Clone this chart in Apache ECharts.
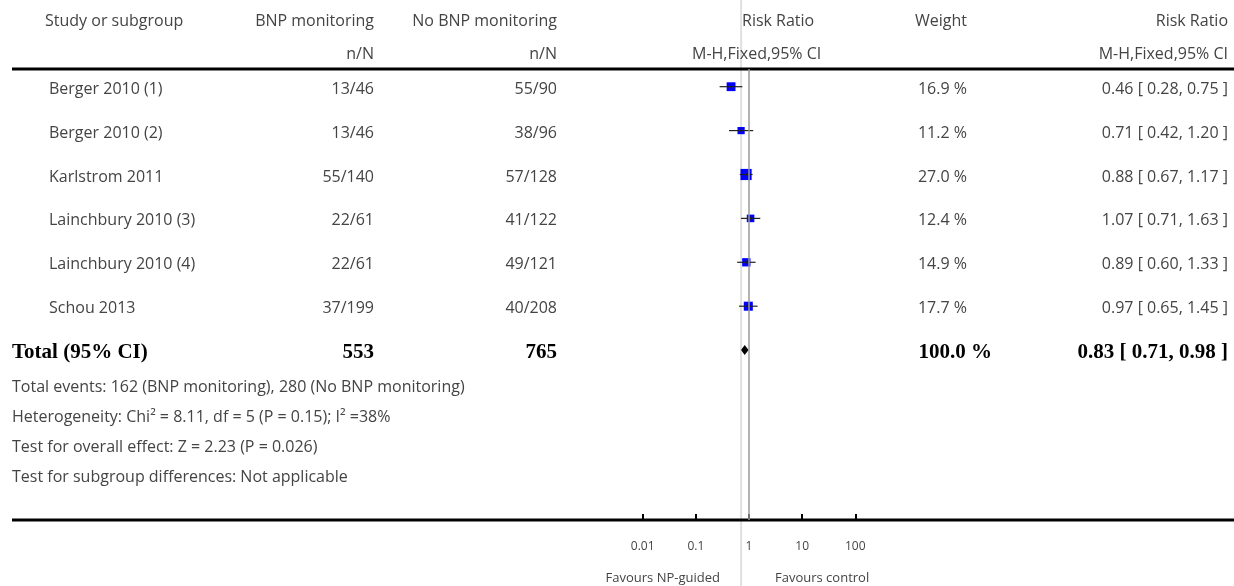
<!DOCTYPE html>
<html>
<head>
<meta charset="utf-8">
<script src="https://cdn.jsdelivr.net/npm/echarts@6/dist/echarts.min.js"></script>
<style>
  html, body { margin: 0; padding: 0; background: #fff; }
  #chart { width: 1234px; height: 586px; }
</style>
</head>
<body>
<div id="chart"></div>
<script>
// Study rows
const studies = ['Berger 2010 (1)', 'Berger 2010 (2)', 'Karlstrom 2011', 'Lainchbury 2010 (3)', 'Lainchbury 2010 (4)', 'Schou 2013'];
const bnpEvents = ['13/46', '13/46', '55/140', '22/61', '22/61', '37/199'];
const noBnpEvents = ['55/90', '38/96', '57/128', '41/122', '49/121', '40/208'];
const weights = [16.9, 11.2, 27.0, 12.4, 14.9, 17.7];
const riskRatio = [0.46, 0.71, 0.88, 1.07, 0.89, 0.97];
const ciLow = [0.28, 0.42, 0.67, 0.71, 0.60, 0.65];
const ciHigh = [0.75, 1.20, 1.17, 1.63, 1.33, 1.45];

// Pooled result
const totalLabel = 'Total (95% CI)';
const totalN = ['553', '765'];
const totalWeight = 100.0;
const totalRR = [0.83, 0.71, 0.98];

// Footnotes under the table
const footnotes = [
  'Total events: 162 (BNP monitoring), 280 (No BNP monitoring)',
  'Heterogeneity: Chi\u00B2 = 8.11, df = 5 (P = 0.15); I\u00B2 =38%',
  'Test for overall effect: Z = 2.23 (P = 0.026)',
  'Test for subgroup differences: Not applicable'
];

// Axis
const axisTicks = [0.01, 0.1, 1, 10, 100];
const favourLeft = 'Favours NP-guided';
const favourRight = 'Favours control';

const FONT = '"Open Sans", Lato, sans-serif';
const TXT = '#444';
const fmt2 = v => v.toFixed(2);
const ciText = (r, l, h) => `${fmt2(r)} [ ${fmt2(l)}, ${fmt2(h)} ]`;

const chart = echarts.init(document.getElementById('chart'), null, { renderer: 'canvas' });

const studyData = riskRatio.map((r, i) => [r, i, ciLow[i], ciHigh[i], weights[i]]);
const totalRow = studies.length;

const option = {
  animation: false,
  backgroundColor: '#fff',
  grid: { left: 642.7, right: 378.7, top: 69, bottom: 66 },
  xAxis: {
    type: 'log',
    logBase: 10,
    min: axisTicks[0],
    max: axisTicks[axisTicks.length - 1],
    axisLine: { show: false, onZero: false },
    axisTick: { show: true, inside: true, length: 6, lineStyle: { color: '#000', width: 2 } },
    axisLabel: {
      margin: 21,
      color: TXT,
      fontFamily: FONT,
      fontSize: 12,
      formatter: v => String(v)
    },
    splitLine: { show: false },
    minorTick: { show: false }
  },
  yAxis: {
    type: 'value',
    inverse: true,
    min: -0.403,
    max: 9.87,
    show: false
  },
  series: [
    {
      type: 'custom',
      name: 'studies',
      data: studyData,
      renderItem: (params, api) => {
        const row = api.value(1);
        const [xc, y] = api.coord([api.value(0), row]);
        const xl = api.coord([api.value(2), row])[0];
        const xh = api.coord([api.value(3), row])[0];
        const s = 2.15 * Math.sqrt(api.value(4));
        return {
          type: 'group',
          children: [
            { type: 'rect', shape: { x: xc - s / 2, y: y - s / 2, width: s, height: s }, style: { fill: '#0000ff' } },
            { type: 'line', shape: { x1: xl, y1: y, x2: xh, y2: y }, style: { stroke: '#222', lineWidth: 1.2 } },
            { type: 'line', shape: { x1: xc, y1: y - 2, x2: xc, y2: y + 2 }, style: { stroke: '#222', lineWidth: 0.8 } }
          ]
        };
      },
      markLine: {
        silent: true,
        symbol: ['none', 'none'],
        label: { show: false },
        lineStyle: { color: '#9a9a9a', width: 1.5, type: 'solid' },
        data: [{ xAxis: 1 }]
      },
      z: 3
    },
    {
      type: 'custom',
      name: 'total',
      data: [[totalRR[0], totalRow, totalRR[1], totalRR[2]]],
      renderItem: (params, api) => {
        const row = api.value(1);
        const [xc, y] = api.coord([api.value(0), row]);
        const xl = api.coord([api.value(2), row])[0];
        const xh = api.coord([api.value(3), row])[0];
        const h = 5;
        return {
          type: 'polygon',
          shape: { points: [[xl, y], [xc, y - h], [xh, y], [xc, y + h]] },
          style: { fill: '#000' }
        };
      },
      z: 3
    }
  ]
};

chart.setOption(option);

// Table text and rules, positioned from the chart's own y scale
const rowY = i => chart.convertToPixel({ yAxisIndex: 0 }, i) + 2.5;
const txt = (text, x, y, align, extra) => ({
  type: 'text',
  x, y,
  silent: true,
  style: Object.assign({
    text,
    fill: TXT,
    font: `16px ${FONT}`,
    textAlign: align,
    textVerticalAlign: 'middle'
  }, extra || {})
});

const colStudy = 49, colBnp = 374, colNo = 557, colW = 967, colRR = 1228;
const elements = [];

// light guide line behind the plot
const guideX = chart.convertToPixel({ xAxisIndex: 0 }, totalRR[1]);
elements.push({ type: 'rect', silent: true, z: -1, shape: { x: guideX - 1, y: 0, width: 2, height: 586 }, style: { fill: '#e0e0e0' } });

// rules
elements.push({ type: 'rect', silent: true, shape: { x: 12, y: 67.5, width: 1222, height: 3 }, style: { fill: '#000' } });
elements.push({ type: 'rect', silent: true, shape: { x: 12, y: 518.5, width: 1222, height: 3 }, style: { fill: '#000' } });

// header
elements.push(txt('Study or subgroup', 45, 21, 'left'));
elements.push(txt('BNP monitoring', colBnp, 21, 'right'));
elements.push(txt('No BNP monitoring', colNo, 21, 'right'));
elements.push(txt('Risk Ratio', 742, 21, 'left'));
elements.push(txt('Weight', colW, 21, 'right'));
elements.push(txt('Risk Ratio', colRR, 21, 'right'));
elements.push(txt('n/N', colBnp, 54, 'right'));
elements.push(txt('n/N', colNo, 54, 'right'));
elements.push(txt('M-H,Fixed,95% CI', 692, 54, 'left'));
elements.push(txt('M-H,Fixed,95% CI', colRR, 54, 'right'));

// study rows
studies.forEach((name, i) => {
  const y = rowY(i);
  elements.push(txt(name, colStudy, y, 'left'));
  elements.push(txt(bnpEvents[i], colBnp, y, 'right'));
  elements.push(txt(noBnpEvents[i], colNo, y, 'right'));
  elements.push(txt(weights[i].toFixed(1) + ' %', colW, y, 'right'));
  elements.push(txt(ciText(riskRatio[i], ciLow[i], ciHigh[i]), colRR, y, 'right'));
});

// total row
const bold = { font: 'bold 21px "Liberation Serif", "DejaVu Serif", serif', fill: '#000' };
const ty = rowY(totalRow);
elements.push(txt(totalLabel, 12, ty, 'left', bold));
elements.push(txt(totalN[0], colBnp, ty, 'right', bold));
elements.push(txt(totalN[1], colNo, ty, 'right', bold));
elements.push(txt(totalWeight.toFixed(1) + ' %', colW + 25, ty, 'right', bold));
elements.push(txt(ciText(totalRR[0], totalRR[1], totalRR[2]), colRR, ty, 'right', bold));

// footnotes
footnotes.forEach((t, i) => {
  elements.push(txt(t, 12, 387 + i * 30.3, 'left'));
});

// favour labels
elements.push(txt(favourLeft, 720, 578, 'right', { font: `13px ${FONT}` }));
elements.push(txt(favourRight, 775, 578, 'left', { font: `13px ${FONT}` }));

chart.setOption({ graphic: { elements } });
</script>
</body>
</html>
